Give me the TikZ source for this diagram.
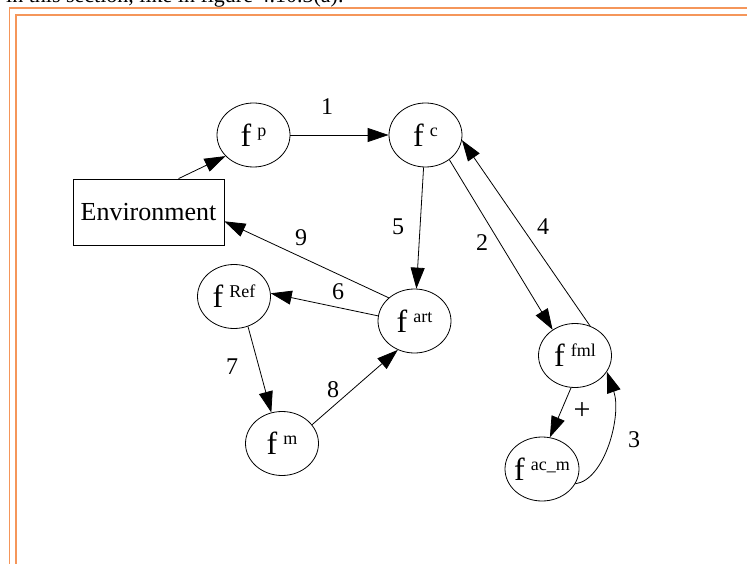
\documentclass[tikz,border=0pt]{standalone}
\usepackage{fontspec}
\setmainfont{Liberation Serif}
\usetikzlibrary{shapes.geometric,arrows.meta}
\definecolor{pageline}{RGB}{245,150,90}
\newcommand{\fsup}[1]{{\fontsize{32}{32}\selectfont f} \raisebox{10pt}{\fontsize{18}{18}\selectfont #1}}

\begin{document}
\begin{tikzpicture}[x=1pt,y=-1pt,
	every node/.style={font=\fontsize{24}{24}\selectfont},
	fn/.style={draw,ellipse,line width=0.8pt,minimum width=73pt,minimum height=64pt,inner sep=0pt},
	arr/.style={line width=0.8pt,-{Triangle[length=21pt,width=14pt]}}]
	\useasboundingbox (0,0) rectangle (747,564);
	\clip (0,0) rectangle (747,564);
	% page frame and the line of text above it
	\node[anchor=base west,inner sep=0pt,font=\fontsize{22}{22}\selectfont] (txt) at (6,2.5) {in this section, like in figure 4.10.3(a).};
	\draw[pageline,line width=1.6pt] (9.3,564) -- (9.3,8.3) -- (747,8.3);
	\draw[pageline,line width=1.6pt] (16,564) -- (16,15.3) -- (747,15.3);
	% functions
	\node[draw,line width=0.8pt,minimum width=151pt,minimum height=66pt,inner sep=0pt,font=\fontsize{26}{26}\selectfont] (env) at (148.5,212) {Environment};
	\node[fn] (fp) at (253.5,135) {\fsup{p}};
	\node[fn] (fc) at (425.5,135) {\fsup{c}};
	\node[fn] (fref) at (234,296.5) {\fsup{Ref}};
	\node[fn] (fart) at (414.5,321) {\fsup{art}};
	\node[fn] (fm) at (282,443.5) {\fsup{m}};
	\node[fn] (ffml) at (575,355.5) {\fsup{fml}};
	\node[fn,minimum width=74pt,inner xsep=-6pt] (facm) at (542,469) {\fsup{ac\_m}};
	% flows
	\foreach \a/\b in {env.48/fp.-143, fp/fc, fc/fart, fc.-46/ffml.131, ffml.63/fc.-8, fart.138/env.-7, fart.172/fref.5, fref.-65/fm.109, fm.32/fart.-120, ffml.-97/facm.76}
		\draw[arr] (\a) -- (\b);
	\draw[arr] (facm.-24) .. controls (605,480) and (622,415) .. (ffml.-27);
	% labels
	\foreach \nm/\t/\x/\y in {l1/1/327/107, l5/5/398/227, l2/2/482/243, l4/4/543/227, l9/9/301/238, l6/6/338/292, l7/7/232/367, l8/8/333/390, l3/3/634/440}
		\node (\nm) at (\x,\y) {\t};
	\node[font=\fontsize{30}{30}\selectfont] (lp) at (582,411) {+};
\end{tikzpicture}
\end{document}
